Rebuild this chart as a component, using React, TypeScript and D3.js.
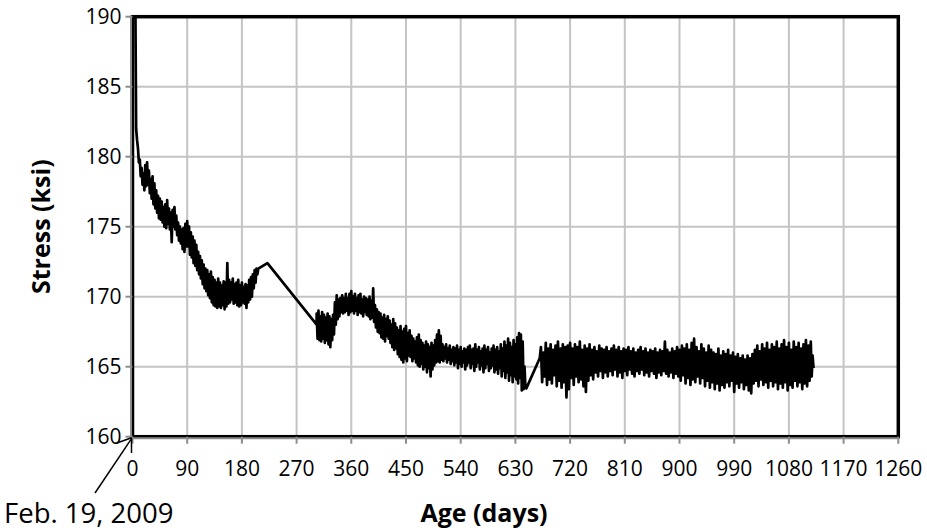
import React from "react";
import * as d3 from "d3";

// ---- Data ----
const xTicks = [0, 90, 180, 270, 360, 450, 540, 630, 720, 810, 900, 990, 1080, 1170, 1260];
const yTicks = [160, 165, 170, 175, 180, 185, 190];

// first reading (above the plotted range)
const startPoints: [number, number][] = [[4, 196]];

// [day, upper, lower]
const descentBand: [number, number, number][] = [
  [6, 182.0, 181.2], [9, 180.6, 179.6], [12, 179.8, 178.6], [15, 179.2, 178.0], [18, 178.8, 177.6],
  [21, 179.4, 177.9], [24, 179.6, 178.0], [27, 179.0, 177.4], [30, 178.4, 177.0], [33, 178.6, 176.6],
  [36, 178.1, 176.3], [39, 177.6, 176.0], [42, 177.2, 175.6], [45, 177.0, 175.5], [48, 176.8, 175.3],
  [51, 176.4, 175.0], [54, 176.6, 174.9], [57, 176.9, 175.2], [60, 176.3, 174.8], [63, 176.0, 173.9],
  [66, 176.2, 175.0], [69, 176.4, 174.8], [72, 175.8, 174.4], [75, 175.3, 174.0], [78, 175.0, 173.8],
  [81, 174.8, 173.4], [84, 174.9, 173.2], [87, 175.2, 173.6], [90, 175.4, 173.6], [93, 175.0, 173.0],
  [96, 174.6, 172.8], [99, 174.3, 172.4], [102, 174.0, 172.2], [105, 173.7, 171.9], [108, 173.2, 171.6],
  [111, 172.9, 171.3], [114, 172.6, 170.9], [117, 172.3, 170.6], [120, 172.0, 170.4], [123, 171.9, 170.1],
  [126, 171.6, 169.9], [129, 171.8, 169.6], [132, 171.4, 169.4], [135, 171.2, 169.3], [138, 171.0, 169.2],
  [141, 171.3, 169.3], [144, 171.0, 169.2], [147, 170.8, 169.4], [150, 171.1, 169.1], [153, 171.0, 169.3],
  [156, 172.4, 169.5], [159, 171.2, 169.6], [162, 171.0, 169.8], [165, 171.3, 169.5], [168, 170.9, 169.6],
  [171, 171.0, 169.4], [174, 171.2, 169.3], [177, 170.8, 169.4], [180, 171.0, 169.6], [183, 170.7, 169.5],
  [186, 170.9, 169.2], [189, 170.8, 169.6], [192, 171.2, 169.8], [195, 171.4, 170.0], [198, 171.6, 170.6],
  [201, 171.9, 171.0], [204, 172.0, 171.6],
];

// sparse readings bridging the first gap
const gapPoints1: [number, number][] = [[207, 172.0], [222, 172.4], [303, 168.0]];

const plateauBand: [number, number, number][] = [
  [303, 168.8, 167.0], [306, 169.0, 166.9], [309, 168.6, 166.8], [312, 168.9, 167.0], [315, 168.7, 166.7],
  [318, 168.5, 166.9], [321, 168.8, 166.6], [324, 168.6, 166.4], [327, 168.4, 166.9], [330, 168.7, 167.3],
  [333, 169.6, 168.0], [336, 170.1, 168.4], [339, 169.8, 168.6], [342, 169.9, 168.9], [345, 170.1, 168.8],
  [348, 169.9, 168.9], [351, 170.2, 169.0], [354, 169.9, 168.7], [357, 170.2, 168.9], [360, 170.4, 169.0],
  [363, 170.0, 168.8], [366, 170.2, 169.0], [369, 169.9, 168.7], [372, 170.1, 168.9], [375, 170.2, 168.8],
  [378, 169.8, 168.6], [381, 170.0, 168.9], [384, 169.9, 168.7], [387, 169.8, 168.6], [390, 170.0, 168.4],
  [393, 169.7, 168.5], [396, 170.6, 168.2], [399, 169.4, 167.8], [402, 169.1, 167.5], [405, 168.9, 167.4],
  [408, 168.8, 167.1], [411, 168.5, 167.0], [414, 168.7, 166.8], [417, 168.4, 167.2], [420, 168.6, 167.0],
  [423, 168.3, 166.7], [426, 168.0, 166.4], [429, 168.4, 166.2], [432, 168.1, 166.3], [435, 167.8, 165.9],
  [438, 167.6, 165.7], [441, 167.9, 165.5], [444, 167.5, 165.3], [447, 167.7, 165.6], [450, 167.9, 165.4],
  [453, 167.4, 165.8], [456, 167.6, 165.7], [459, 167.2, 165.4], [462, 167.0, 165.6], [465, 166.8, 165.3],
  [468, 167.1, 165.1], [471, 167.3, 165.0], [474, 166.9, 165.2], [477, 166.7, 164.8], [480, 166.5, 165.0],
  [483, 166.8, 164.6], [486, 166.6, 164.9], [489, 166.4, 164.3], [492, 166.7, 164.8], [495, 166.5, 165.1],
  [498, 166.9, 165.3], [501, 167.3, 165.4], [504, 167.6, 165.3], [507, 167.2, 165.5], [510, 166.6, 165.4],
  [513, 166.4, 165.6], [516, 166.6, 165.3], [519, 166.3, 165.5], [522, 166.5, 165.2], [525, 166.2, 165.4],
  [528, 166.4, 165.1], [531, 166.3, 165.3], [534, 166.5, 164.9], [537, 166.2, 165.2], [540, 166.4, 165.0],
  [543, 166.1, 165.3], [546, 166.3, 164.8], [549, 166.2, 165.1], [552, 166.4, 165.3], [555, 166.5, 164.9],
  [558, 166.2, 165.2], [561, 166.3, 164.7], [564, 166.6, 165.0], [567, 166.2, 165.3], [570, 166.4, 164.8],
  [573, 166.1, 165.1], [576, 166.3, 164.6], [579, 166.5, 164.9], [582, 166.2, 165.2], [585, 166.4, 164.7],
  [588, 166.0, 164.9], [591, 166.3, 165.1], [594, 166.5, 164.6], [597, 166.2, 164.8], [600, 166.4, 164.5],
  [603, 166.1, 164.9], [606, 166.6, 164.3], [609, 166.3, 164.7], [612, 166.8, 164.2], [615, 166.5, 164.6],
  [618, 167.0, 164.0], [621, 166.7, 164.4], [624, 166.4, 163.9], [627, 166.9, 164.3], [630, 166.6, 164.1],
  [633, 167.1, 163.8], [636, 167.4, 164.2], [639, 167.3, 163.3], [642, 166.8, 163.4], [645, 165.0, 163.5],
];

const gapPoints2: [number, number][] = [[648, 163.45], [670, 165.6]];

const flatBand: [number, number, number][] = [
  [672, 166.4, 163.9], [676, 166.0, 164.3], [680, 166.7, 163.7], [684, 166.3, 164.1], [688, 166.6, 163.8],
  [692, 166.2, 164.4], [696, 166.5, 163.6], [700, 166.8, 164.0], [704, 166.3, 163.5], [708, 166.6, 163.9],
  [712, 166.4, 162.8], [716, 166.5, 163.4], [720, 166.7, 164.2], [724, 166.3, 163.7], [728, 166.6, 164.3],
  [732, 166.4, 163.9], [736, 166.8, 164.1], [740, 166.2, 163.6], [744, 166.5, 163.2], [748, 166.3, 164.0],
  [752, 166.6, 164.4], [756, 166.2, 164.1], [760, 166.4, 164.6], [764, 166.1, 164.3], [768, 166.5, 164.7],
  [772, 166.3, 164.2], [776, 166.2, 164.6], [780, 166.4, 164.3], [784, 166.1, 164.7], [788, 166.3, 164.4],
  [792, 166.5, 164.8], [796, 166.2, 164.3], [800, 166.4, 164.6], [804, 166.1, 164.2], [808, 166.3, 164.7],
  [812, 166.2, 164.4], [816, 166.4, 164.8], [820, 166.1, 164.5], [824, 166.3, 164.3], [828, 166.0, 164.7],
  [832, 166.2, 164.5], [836, 166.4, 164.8], [840, 166.1, 164.4], [844, 166.3, 164.6], [848, 166.0, 164.3],
  [852, 166.2, 164.7], [856, 166.1, 164.5], [860, 166.3, 164.2], [864, 166.0, 164.6], [868, 166.2, 164.4],
  [872, 166.1, 164.7], [876, 166.8, 164.5], [880, 166.2, 164.3], [884, 166.0, 164.6], [888, 166.3, 164.2],
  [892, 166.1, 164.5], [896, 166.4, 164.3], [900, 166.2, 164.0], [904, 166.5, 164.4], [908, 166.3, 163.8],
  [912, 166.6, 164.2], [916, 166.2, 163.7], [920, 166.7, 164.1], [924, 167.0, 163.9], [928, 166.4, 164.3],
  [932, 166.1, 163.8], [936, 166.6, 164.2], [940, 166.3, 163.6], [944, 166.0, 164.0], [948, 166.5, 163.5],
  [952, 166.2, 163.9], [956, 166.0, 163.4], [960, 165.9, 163.8], [964, 166.3, 163.3], [968, 165.8, 163.7],
  [972, 166.1, 163.5], [976, 165.9, 163.9], [980, 166.2, 163.6], [984, 165.8, 164.0], [988, 166.0, 163.2],
  [992, 165.7, 163.8], [996, 165.9, 163.5], [1000, 165.6, 163.9], [1004, 165.8, 163.4], [1008, 165.5, 163.7],
  [1012, 165.8, 163.3], [1016, 165.6, 163.1], [1020, 165.9, 163.8], [1024, 166.2, 164.0], [1028, 166.5, 163.6],
  [1032, 166.1, 164.1], [1036, 166.6, 163.7], [1040, 166.3, 163.9], [1044, 166.7, 163.5], [1048, 166.2, 164.0],
  [1052, 166.6, 163.6], [1056, 166.4, 163.9], [1060, 166.8, 163.4], [1064, 166.3, 163.8], [1068, 166.6, 163.5],
  [1072, 166.9, 163.9], [1076, 166.4, 163.3], [1080, 166.7, 163.7], [1084, 166.2, 163.5], [1088, 166.8, 164.0],
  [1092, 166.4, 163.6], [1096, 166.7, 163.9], [1100, 166.3, 163.4], [1104, 166.6, 163.8], [1108, 166.9, 163.6],
  [1112, 166.5, 164.0], [1116, 166.8, 164.3], [1119, 165.8, 164.9],
];

// ---- Layout ----
const W = 927, H = 531;
const X0 = 132.5, X1 = 898.3, Y0 = 16.7, Y1 = 436.7;
const FONT = "'Open Sans', 'Noto Sans', sans-serif";

function bandPoints(band: [number, number, number][]): [number, number][] {
  const out: [number, number][] = [];
  band.forEach((b, i) => {
    const next = band[i + 1];
    const step = next ? next[0] - b[0] : 3;
    out.push([b[0], b[1]]);
    out.push([b[0] + step / 2, b[2]]);
  });
  return out;
}

export default function App() {
  const x = d3.scaleLinear().domain([0, 1260]).range([X0, X1]);
  const y = d3.scaleLinear().domain([160, 190]).range([Y1, Y0]);

  const series: [number, number][] = [
    ...startPoints,
    ...bandPoints(descentBand),
    ...gapPoints1,
    ...bandPoints(plateauBand),
    ...gapPoints2,
    ...bandPoints(flatBand),
  ];
  const line = d3
    .line<[number, number]>()
    .x((d) => x(d[0]))
    .y((d) => y(d[1]));

  const gridColor = "#c4c4c4";
  const axisColor = "#8c8c8c";

  return (
    <svg
      width={W}
      height={H}
      style={{ position: "absolute", left: 0, top: 0, background: "#fff" }}
    >
      <defs>
        <clipPath id="plotClip">
          <rect x={X0} y={Y0} width={X1 - X0} height={Y1 - Y0} />
        </clipPath>
      </defs>
      <rect x={0} y={0} width={W} height={H} fill="#fff" />

      {/* gridlines */}
      {xTicks.slice(1, -1).map((t) => (
        <line key={"gx" + t} x1={x(t)} x2={x(t)} y1={Y0} y2={Y1} stroke={gridColor} strokeWidth={2} />
      ))}
      {yTicks.slice(1, -1).map((t) => (
        <line key={"gy" + t} x1={X0} x2={X1} y1={y(t)} y2={y(t)} stroke={gridColor} strokeWidth={2} />
      ))}

      {/* data */}
      <path
        d={line(series) || ""}
        fill="none"
        stroke="#000"
        strokeWidth={2.7}
        strokeLinejoin="round"
        clipPath="url(#plotClip)"
      />

      {/* plot border */}
      <rect x={X0} y={Y0} width={X1 - X0} height={Y1 - Y0} fill="none" stroke="#000" strokeWidth={3.5} />

      {/* axis lines */}
      <line x1={X0 - 1.5} x2={X0 - 1.5} y1={Y0} y2={Y1 + 1.5} stroke={axisColor} strokeWidth={2} />
      <line x1={X0 - 1.5} x2={X1} y1={Y1 + 1.5} y2={Y1 + 1.5} stroke={axisColor} strokeWidth={2} />

      {/* ticks */}
      {yTicks.map((t) => (
        <line key={"ty" + t} x1={X0 - 7} x2={X0} y1={y(t)} y2={y(t)} stroke={axisColor} strokeWidth={2} />
      ))}
      {xTicks.map((t) => (
        <line key={"tx" + t} x1={x(t)} x2={x(t)} y1={Y1} y2={Y1 + 7} stroke={axisColor} strokeWidth={2} />
      ))}

      {/* tick labels */}
      {yTicks.map((t) => (
        <text
          key={"ly" + t}
          x={X0 - 11}
          y={y(t)}
          dy="0.36em"
          textAnchor="end"
          fontFamily={FONT}
          fontSize={21}
          fill="#000"
        >
          {t}
        </text>
      ))}
      {xTicks.map((t) => (
        <text
          key={"lx" + t}
          x={x(t)}
          y={476}
          textAnchor="middle"
          fontFamily={FONT}
          fontSize={21}
          fill="#000"
        >
          {t}
        </text>
      ))}

      {/* axis titles */}
      <text
        transform={`translate(${50},${(Y0 + Y1) / 2}) rotate(-90)`}
        textAnchor="middle"
        fontFamily={FONT}
        fontWeight="bold"
        fontSize={25}
        fill="#000"
      >
        Stress (ksi)
      </text>
      <text
        x={484}
        y={522}
        textAnchor="middle"
        fontFamily={FONT}
        fontWeight="bold"
        fontSize={25}
        fill="#000"
      >
        Age (days)
      </text>

      {/* date annotation with arrow */}
      <line x1={X0 - 1} x2={95} y1={Y1 + 2} y2={493} stroke="#000" strokeWidth={1.5} />
      <line x1={X0 - 1} x2={117} y1={Y1 + 1} y2={443} stroke="#000" strokeWidth={1.5} />
      <line x1={X0 - 1} x2={X0 - 1} y1={Y1 + 1} y2={453} stroke="#000" strokeWidth={1.5} />
      <text x={4} y={523} fontFamily={FONT} fontSize={27.5} fill="#000">
        Feb. 19, 2009
      </text>
    </svg>
  );
}
